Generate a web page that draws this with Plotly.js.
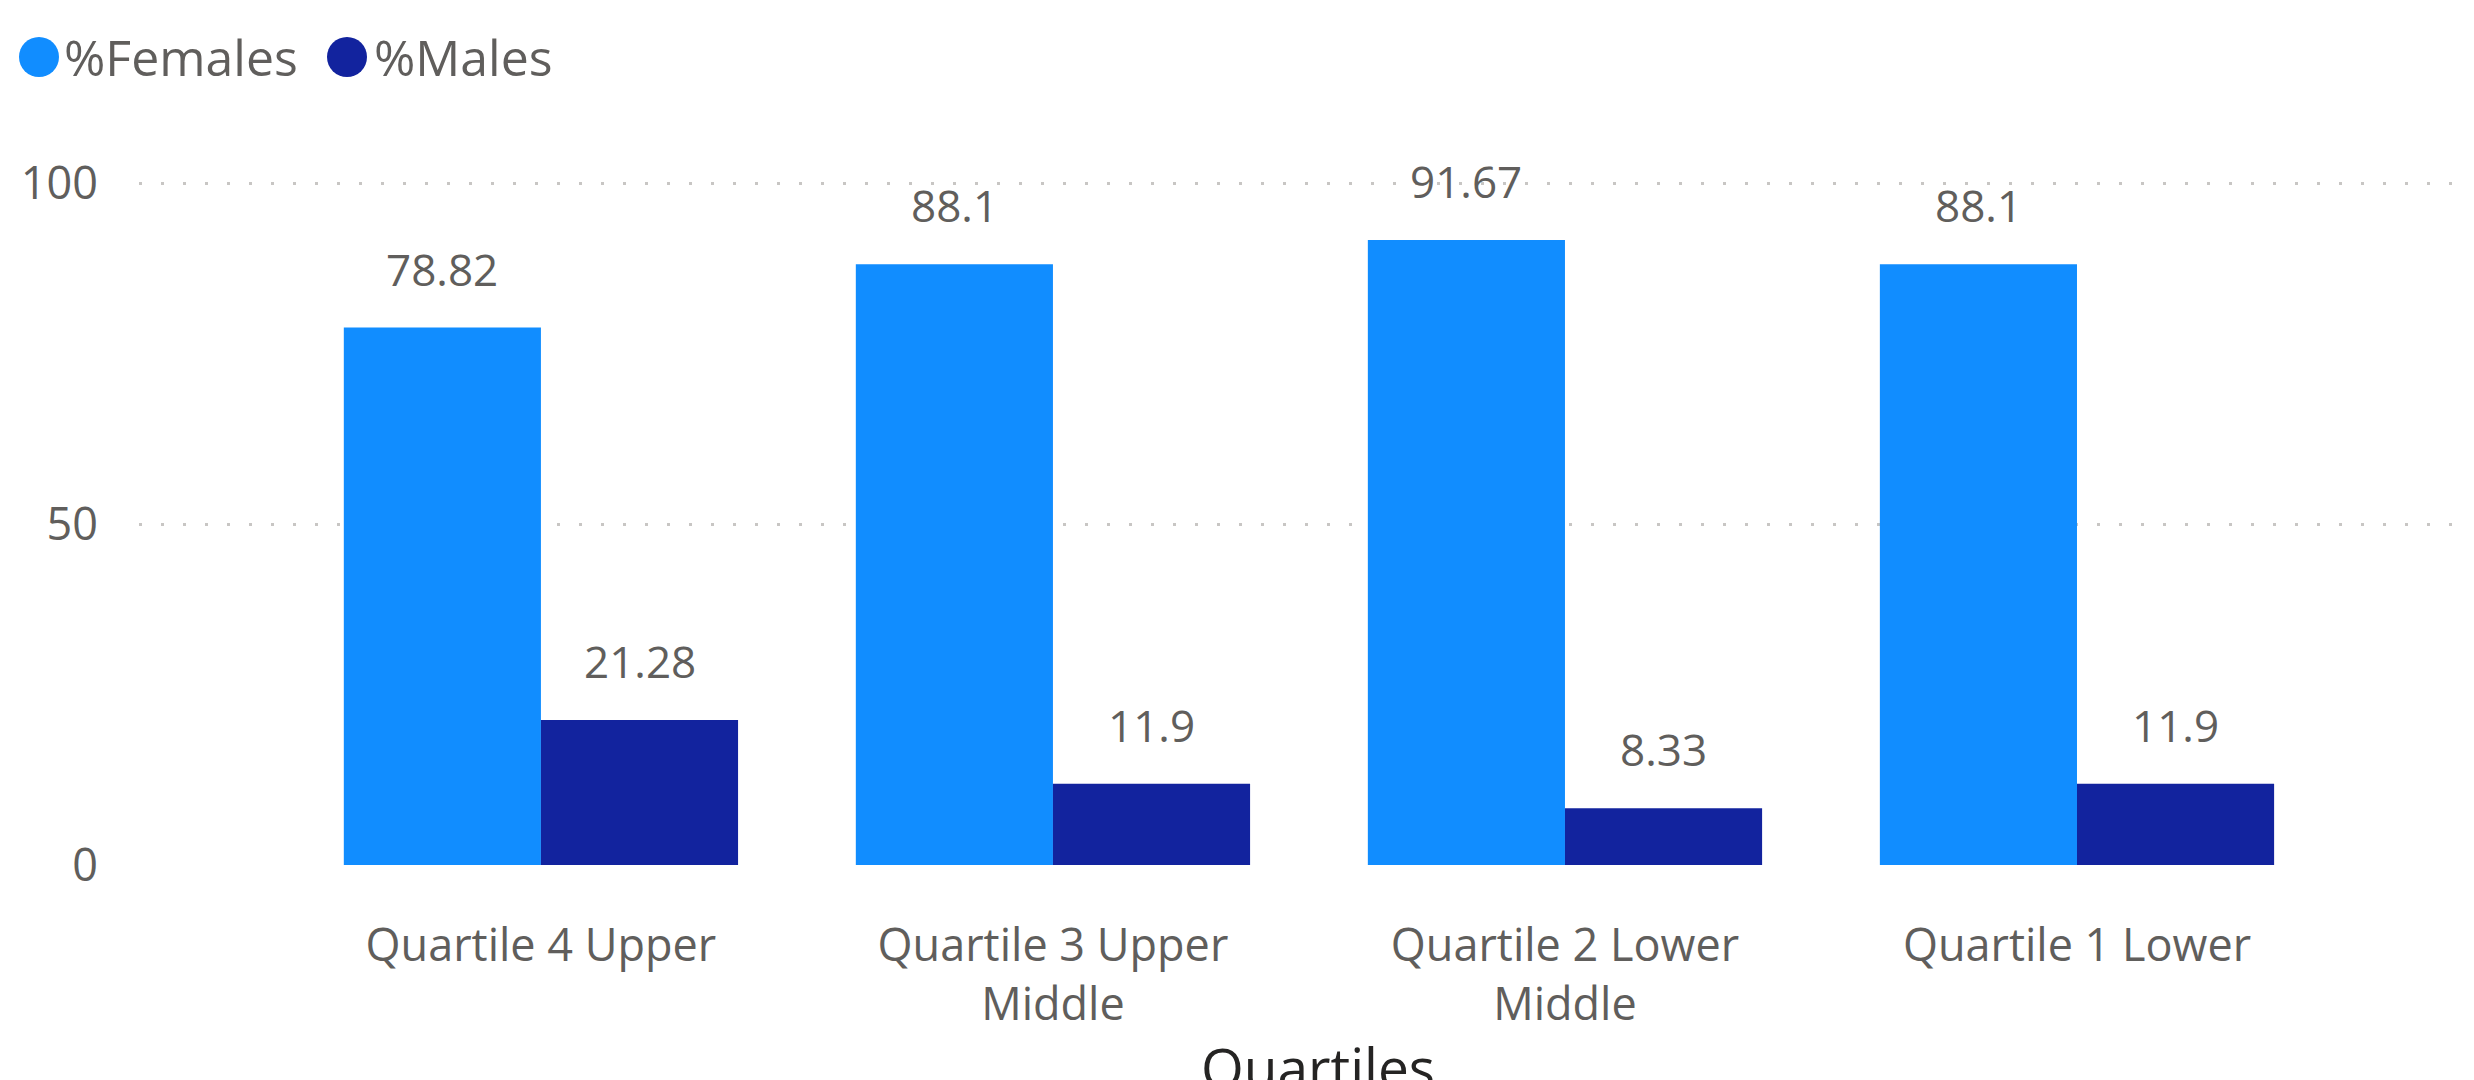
<!DOCTYPE html>
<html>
<head>
<meta charset="utf-8">
<script src="https://cdn.plot.ly/plotly-3.0.1.min.js"></script>
<style>html,body{margin:0;padding:0;background:#fff;}#chart{width:2474px;height:1080px;}</style>
</head>
<body>
<div id="chart"></div>
<script>
const categories = ["Quartile 4 Upper", "Quartile 3 Upper<br>Middle", "Quartile 2 Lower<br>Middle", "Quartile 1 Lower"];
const females = [78.82, 88.1, 91.67, 88.1];
const males = [21.28, 11.9, 8.33, 11.9];
const seriesNames = ["%Females", "%Males"];
const colors = ["#118DFF", "#12239E"];
const yTicks = [0, 50, 100];
const xTitle = "Quartiles";

const FONT = "'Segoe UI', 'Open Sans', sans-serif";
const TXT = "#605E5C";

const W = 2474, H = 1080;
const M = {l: 139, r: 13, t: 149, b: 215};
const PW = W - M.l - M.r, PH = H - M.t - M.b;
const px2x = p => (p - M.l) / PW;
const py2y = p => 1 - (p - M.t) / PH;

const traces = [
  {type: "bar", name: seriesNames[0], x: categories, y: females, marker: {color: colors[0]}, hoverinfo: "x+y"},
  {type: "bar", name: seriesNames[1], x: categories, y: males, marker: {color: colors[1]}, hoverinfo: "x+y"}
];

const barHalf = 0.385 / 2;
const annotations = [];
[females, males].forEach((vals, s) => {
  vals.forEach((v, i) => {
    annotations.push({
      x: i + (s === 0 ? -barHalf : barHalf), y: v, xref: "x", yref: "y",
      text: String(v), showarrow: false, yanchor: "bottom", yshift: 27,
      font: {family: FONT, size: 44, color: TXT}
    });
  });
});

// custom legend (circle markers + labels)
const legendText = [
  {text: seriesNames[0], x: 62},
  {text: seriesNames[1], x: 372}
];
legendText.forEach(l => annotations.push({
  x: px2x(l.x), y: py2y(57), xref: "paper", yref: "paper", xanchor: "left", yanchor: "middle",
  text: l.text, showarrow: false, font: {family: FONT, size: 50, color: TXT}
}));

// x-axis title (partly cut by the bottom edge, as in the reference)
annotations.push({
  x: px2x(1318), y: py2y(1066), xref: "paper", yref: "paper", xanchor: "center", yanchor: "middle",
  text: xTitle, showarrow: false, font: {family: FONT, size: 55, color: "#252423"}
});

const shapes = [39, 347].map((cx, k) => ({
  type: "circle", xref: "paper", yref: "paper", xsizemode: "pixel", ysizemode: "pixel",
  xanchor: px2x(cx), yanchor: py2y(57),
  x0: -20, x1: 20, y0: -20, y1: 20,
  fillcolor: colors[k], line: {width: 0}
}));

const layout = {
  width: W, height: H,
  paper_bgcolor: "#ffffff", plot_bgcolor: "#ffffff",
  margin: {l: M.l, r: M.r, t: M.t, b: M.b, autoexpand: false},
  showlegend: false,
  barmode: "group", bargap: 0.23, bargroupgap: 0,
  font: {family: FONT, color: TXT, size: 44},
  xaxis: {
    type: "category", range: [-0.785, 3.75], showgrid: false, zeroline: false, showline: false,
    ticks: "", ticklabelstandoff: 50, automargin: false,
    tickfont: {family: FONT, size: 45, color: TXT}
  },
  yaxis: {
    range: [0, 105], tickvals: yTicks, ticktext: yTicks.map(String),
    showgrid: true, gridcolor: "#C8C6C4", gridwidth: 3, griddash: "3px,19px",
    zeroline: false, showline: false, ticks: "", ticklabelstandoff: 40, automargin: false,
    tickfont: {family: FONT, size: 45, color: TXT}
  },
  annotations: annotations,
  shapes: shapes
};

Plotly.newPlot("chart", traces, layout, {displayModeBar: false, staticPlot: true});
</script>
</body>
</html>
